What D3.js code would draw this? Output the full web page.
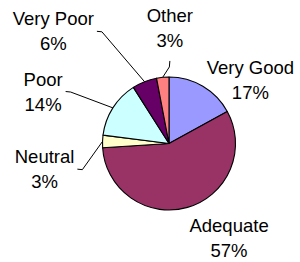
<!DOCTYPE html>
<html>
<head>
<meta charset="utf-8">
<script src="https://cdn.jsdelivr.net/npm/d3@7"></script>
<style>
  html, body { margin: 0; padding: 0; background: #fff; }
  svg text { font-family: "Liberation Sans", Arial, sans-serif; fill: #000; }
</style>
</head>
<body>
<div id="chart"></div>
<script>
// data
const categories = ["Very Good", "Adequate", "Neutral", "Poor", "Very Poor", "Other"];
const values = [17, 57, 3, 14, 6, 3];
const colors = ["#9999FF", "#993366", "#FFFFCC", "#CCFFFF", "#660066", "#FF8080"];

// label layout (labels were dragged by hand in the original)
const hasLeader = [false, false, true, true, true, true];
const labelShift = [[32, 20], [33, 1], [-27.5, 28.7], [-44, 0], [-80, -22], [10, -19]];

const width = 300, height = 262;
const cx = 169, cy = 143.5, radius = 66.5;

const svg = d3.select("#chart")
    .append("svg")
    .attr("width", width)
    .attr("height", height);

const g = svg.append("g")
    .attr("transform", `translate(${cx},${cy})`);

const total = d3.sum(values);
const fmt = d3.format(".0%");

const pie = d3.pie().sort(null).value(d => d.value);
const arc = d3.arc().innerRadius(0).outerRadius(radius);
const edgeArc = d3.arc().innerRadius(radius).outerRadius(radius);
const labelArc = d3.arc().innerRadius(97).outerRadius(97);

const data = categories.map((c, i) => ({name: c, value: values[i], i: i}));
const arcs = pie(data);

// slices
g.selectAll(".slice")
    .data(arcs)
    .enter()
    .append("path")
    .attr("class", "slice")
    .attr("d", arc)
    .attr("fill", d => colors[d.data.i])
    .attr("stroke", "#000")
    .attr("stroke-width", 1.1)
    .attr("stroke-linejoin", "round");

// labels
const labels = g.selectAll(".label")
    .data(arcs)
    .enter()
    .append("text")
    .attr("class", "label")
    .attr("text-anchor", "middle")
    .attr("font-size", "18.5px")
    .attr("transform", d => {
        const c = labelArc.centroid(d);
        const s = labelShift[d.data.i];
        return `translate(${c[0] + s[0]},${c[1] + s[1]})`;
    });

labels.append("tspan")
    .attr("x", 0)
    .attr("y", -6)
    .text(d => d.data.name);

labels.append("tspan")
    .attr("x", 0)
    .attr("y", 19)
    .text(d => fmt(d.data.value / total));

// leader lines from label to slice edge
labels.each(function(d) {
    if (!hasLeader[d.data.i]) return;
    const c = labelArc.centroid(d);
    const s = labelShift[d.data.i];
    const lx = c[0] + s[0], ly = c[1] + s[1];
    const bb = this.getBBox();
    const end = edgeArc.centroid(d);
    let pts;
    if (Math.abs(end[0]) < 15) {
        // label above the slice
        const y0 = ly + bb.y + bb.height + 10;
        pts = [[lx, y0], [lx - 0.5, y0 + 6], end];
    } else {
        const x0 = lx + bb.x + bb.width + 3;
        pts = [[x0, ly], [x0 + 5, ly + 0.5], end];
    }
    g.append("path")
        .attr("d", d3.line()(pts))
        .attr("fill", "none")
        .attr("stroke", "#000")
        .attr("stroke-width", 1);
});
</script>
</body>
</html>
